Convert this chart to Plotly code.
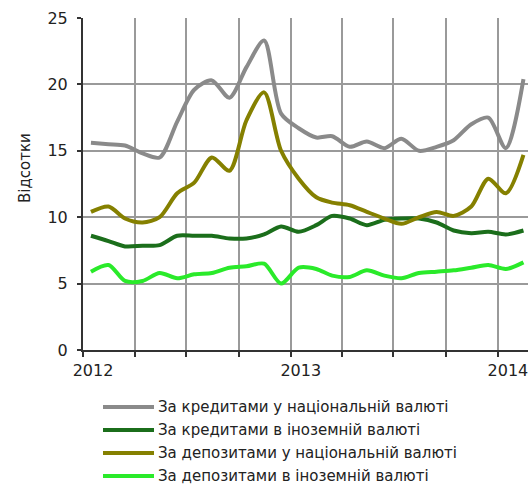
import pandas as pd
import plotly.graph_objects as go

# Monthly observations, Jan 2012 – Feb 2014 (plotted at mid-month)
months = pd.date_range("2012-01-01", periods=26, freq="MS") + pd.Timedelta(days=14)

loans_uah = [15.6, 15.5, 15.4, 14.8, 14.5, 17.2, 19.6, 20.3, 19.0, 21.3, 23.3, 17.8, 16.7,
             16.0, 16.1, 15.3, 15.7, 15.2, 15.9, 15.0, 15.3, 15.8, 17.0, 17.5, 15.2, 20.4]
loans_fx = [8.6, 8.2, 7.8, 7.85, 7.9, 8.6, 8.6, 8.6, 8.4, 8.4, 8.7, 9.3, 8.9,
            9.4, 10.1, 9.9, 9.4, 9.8, 9.9, 9.9, 9.6, 9.0, 8.8, 8.9, 8.7, 9.0]
deposits_uah = [10.4, 10.8, 9.9, 9.6, 10.0, 11.8, 12.6, 14.5, 13.5, 17.3, 19.4, 15.0, 12.9,
                11.5, 11.1, 10.9, 10.4, 9.9, 9.5, 10.0, 10.4, 10.1, 10.8, 12.9, 11.8, 14.7]
deposits_fx = [5.9, 6.4, 5.2, 5.2, 5.8, 5.4, 5.7, 5.8, 6.2, 6.3, 6.5, 5.0, 6.2,
               6.1, 5.6, 5.5, 6.0, 5.6, 5.4, 5.8, 5.9, 6.0, 6.2, 6.4, 6.1, 6.6]

series_names = [
    "За кредитами у національній валюті",
    "За кредитами в іноземній валюті",
    "За депозитами у національній валюті",
    "За депозитами в іноземній валюті",
]
series_values = [loans_uah, loans_fx, deposits_uah, deposits_fx]
series_colors = ["#8a8a8a", "#1b6e1b", "#858000", "#2aea2a"]

quarter_ticks = pd.date_range("2012-01-01", "2014-01-01", freq="QS")
quarter_text = [str(d.year) if d.month == 1 else "" for d in quarter_ticks]

W, H = 528, 488
L, R, T, B = 83, 0, 18, 138
FONT = "DejaVu Sans"
INK = "#222222"

fig = go.Figure()
for name, vals, col in zip(series_names, series_values, series_colors):
    fig.add_trace(go.Scatter(
        x=months, y=vals, name=name, mode="lines",
        line=dict(color=col, width=4, shape="spline", smoothing=0.8),
        showlegend=False,
    ))

# Hand-built legend below the plot area
pw, ph = W - L - R, H - T - B
def px_x(px):
    return (px - L) / pw
def px_y(py):
    return (H - B - py) / ph

legend_rows = [407, 430, 453, 476]
shapes, annotations = [], []
for row, name, col in zip(legend_rows, series_names, series_colors):
    shapes.append(dict(type="line", xref="paper", yref="paper",
                       x0=px_x(103), x1=px_x(154), y0=px_y(row), y1=px_y(row),
                       line=dict(color=col, width=4)))
    annotations.append(dict(xref="paper", yref="paper", x=px_x(156), y=px_y(row),
                            xanchor="left", yanchor="middle", showarrow=False,
                            text=name, font=dict(family=FONT, size=15, color=INK)))

annotations.append(dict(xref="paper", yref="paper", x=px_x(25), y=px_y(168),
                        xanchor="center", yanchor="middle", showarrow=False,
                        text="Відсотки", textangle=-90,
                        font=dict(family=FONT, size=15, color=INK)))

fig.update_layout(
    width=W, height=H,
    margin=dict(l=L, r=R, t=T, b=B),
    paper_bgcolor="white", plot_bgcolor="white",
    font=dict(family=FONT, size=16, color=INK),
    shapes=shapes, annotations=annotations,
    showlegend=False,
)
fig.update_xaxes(
    type="date",
    range=["2012-01-01", "2014-02-23"],
    tickvals=quarter_ticks, ticktext=quarter_text,
    ticks="outside", ticklen=5, tickwidth=2, tickcolor="#333333",
    ticklabelshift=10, ticklabeloverflow="allow",
    showgrid=True, gridcolor="#9a9a9a", gridwidth=2,
    showline=True, linecolor="#333333", linewidth=2,
    zeroline=False,
    tickfont=dict(family=FONT, size=16, color=INK),
)
fig.update_yaxes(
    range=[0, 25], dtick=5,
    ticks="outside", ticklen=4, tickwidth=2, tickcolor="#333333",
    ticklabelstandoff=6,
    showgrid=True, gridcolor="#9a9a9a", gridwidth=2,
    showline=True, linecolor="#333333", linewidth=2,
    zeroline=False,
    tickfont=dict(family=FONT, size=16, color=INK),
)

fig.write_html("out.html")
